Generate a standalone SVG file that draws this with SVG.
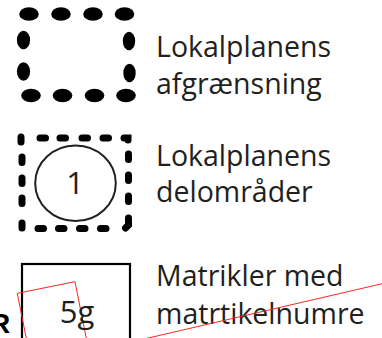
<svg xmlns="http://www.w3.org/2000/svg" width="382" height="338" viewBox="0 0 382 338">
  <style>
    .label { font-family: "Open Sans", "Noto Sans", "Liberation Sans", sans-serif; font-size: 28.5px; fill: #231f20; }
    .num { font-family: "Open Sans", "Noto Sans", "Liberation Sans", sans-serif; font-size: 31px; fill: #231f20; text-anchor: middle; }
    .dot { fill: #000; }
    .dash { fill: none; stroke: #000; stroke-width: 7; stroke-linecap: round; }
    .frame { fill: none; stroke: #000; stroke-width: 2.2; }
    .ring { fill: none; stroke: #231f20; stroke-width: 2; }
    .red { fill: none; stroke: #ee2a24; stroke-width: 1; }
  </style>

  <!-- Legend 1: plan boundary (heavy oval dots) -->
  <g id="boundary">
    <ellipse class="dot" cx="29" cy="14" rx="9.8" ry="6.8"/>
    <ellipse class="dot" cx="61" cy="14" rx="9.8" ry="6.8"/>
    <ellipse class="dot" cx="93" cy="14" rx="9.8" ry="6.8"/>
    <ellipse class="dot" cx="124.5" cy="14" rx="9.8" ry="6.8"/>
    <ellipse class="dot" cx="23.5" cy="40" rx="6.6" ry="9.3"/>
    <ellipse class="dot" cx="23.5" cy="71.5" rx="6.6" ry="9.3"/>
    <ellipse class="dot" cx="129" cy="41" rx="6.2" ry="9.3"/>
    <ellipse class="dot" cx="129.5" cy="73" rx="6.2" ry="9.3"/>
    <ellipse class="dot" cx="31" cy="95.5" rx="9.8" ry="6.8"/>
    <ellipse class="dot" cx="62.5" cy="95.5" rx="9.8" ry="6.8"/>
    <ellipse class="dot" cx="94.5" cy="95.5" rx="9.8" ry="6.8"/>
    <ellipse class="dot" cx="126" cy="95.5" rx="9.8" ry="6.8"/>
    <text class="label" x="156" y="57">Lokalplanens</text>
    <text class="label" x="156" y="94">afgrænsning</text>
  </g>

  <!-- Legend 2: sub-areas (small dashes with a numbered circle) -->
  <g id="subareas">
    <path class="dash" d="M21 137v5 M40 138h5.5 M60 138h5.5 M82 138h5.5 M103 138h5.5 M124 138h4 v2
                          M22 157v5.5 M22 178v5.5 M22 198v5.5 M22 223v5 h0
                          M128.5 154v5.5 M128.5 175v5.5 M128.5 196v5.5 M128.5 218v7 l-3 3
                          M38 228.5h5.5 M58.5 228.5h5.5 M79.5 228.5h5.5 M100.5 228.5h5.5"/>
    <ellipse class="ring" cx="75.5" cy="183.3" rx="40.3" ry="37.8"/>
    <text class="num" x="75" y="194">1</text>
    <text class="label" x="156" y="166">Lokalplanens</text>
    <text class="label" x="156" y="202">delområder</text>
  </g>

  <!-- Legend 3: cadastral parcels with parcel number -->
  <g id="parcels">
    <rect class="frame" x="22" y="264" width="108" height="90"/>
    <polygon class="red" points="17.3,293.3 75,281.7 86.5,339.5 28.8,351.1"/>
    <text class="num" x="77" y="323">5g</text>
    <text class="label" x="156" y="286">Matrikler med</text>
    <text class="label" x="156" y="324">matrtikelnumre</text>
  </g>

  <!-- Red parcel line crossing the label -->
  <g id="connectors">
    <line class="red" x1="144" y1="339" x2="383" y2="283.5"/>
  </g>

  <!-- Cut-off glyph at the left margin -->
  <text x="-10" y="333" style="font-family: 'Liberation Sans', sans-serif; font-weight: bold; font-size: 28px; fill: #000;">R</text>
</svg>
